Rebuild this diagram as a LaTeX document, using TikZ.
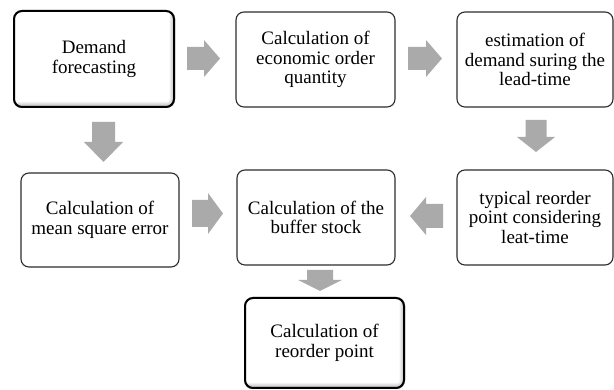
\documentclass[tikz,border=0pt]{standalone}
\usepackage{fontspec}
\setmainfont{Liberation Serif}
\usetikzlibrary{calc}
\definecolor{arrowgray}{RGB}{170,170,170}
\definecolor{boxline}{RGB}{45,45,45}
\newcommand\barrow[6]{%
  \fill[arrowgray, shift={(#1)}, rotate=#2]
    (-#3/2,-#5/2) -- (#3/2-#6,-#5/2) -- (#3/2-#6,-#4/2) -- (#3/2,0)
    -- (#3/2-#6,#4/2) -- (#3/2-#6,#5/2) -- (-#3/2,#5/2) -- cycle;}
\newcommand\innershade[1]{%
  \begin{scope}
    \clip[rounded corners=8pt] (#1.south west) rectangle (#1.north east);
    \foreach \k in {1,...,6}{
      \draw[black, opacity=0.05, line width=2*\k pt, rounded corners=8pt]
        ($(#1.south west)+(-4,0)$) rectangle ($(#1.north east)+(0.5,4)$);
    }
  \end{scope}}
\begin{document}
\begin{tikzpicture}[x=1pt,y=1pt,
  stepbox/.style={draw=boxline, line width=1.1pt, rounded corners=8pt, fill=white,
    align=center, inner sep=2pt, font=\fontsize{19}{19.5}\selectfont},
  keybox/.style={stepbox, draw=black, line width=2pt}]
\useasboundingbox (0,0) rectangle (614,390);
\fill[white] (0,0) rectangle (614,390);

\node[keybox, minimum width=160, minimum height=96] (df) at (94,331) {Demand\\forecasting};
\node[stepbox, minimum width=159, minimum height=95] (eoq) at (315.5,330.5) {Calculation of\\economic order\\quantity};
\node[stepbox, minimum width=156, minimum height=95] (est) at (535,330.5) {estimation of\\demand suring the\\lead-time};
\node[stepbox, minimum width=158, minimum height=94] (mse) at (100,170) {Calculation of\\mean square error};
\node[stepbox, minimum width=158, minimum height=95] (buf) at (316,172.5) {Calculation of the\\buffer stock};
\node[stepbox, minimum width=156, minimum height=95] (typ) at (535,172.5) {typical reorder\\point considering\\leat-time};
\node[keybox, minimum width=159, minimum height=90] (rop) at (324.5,47) {Calculation of\\reorder point};

\innershade{df}
\innershade{rop}

\coordinate (a1) at (203.5,331.5);
\coordinate (a2) at (425,331.5);
\coordinate (a3) at (103.5,248);
\coordinate (a4) at (536,254);
\coordinate (a5) at (207.5,176.5);
\coordinate (a6) at (426.5,174);
\coordinate (a7) at (320,109.5);

\barrow{a1}{0}{33}{37}{23}{16}
\barrow{a2}{0}{34}{37}{23}{16}
\barrow{a3}{-90}{40}{39}{23}{20}
\barrow{a4}{-90}{32}{38}{21}{15}
\barrow{a5}{0}{31}{41}{27}{15}
\barrow{a6}{180}{33}{38}{24}{16}
\barrow{a7}{-90}{21}{44}{26}{11}
\end{tikzpicture}
\end{document}
